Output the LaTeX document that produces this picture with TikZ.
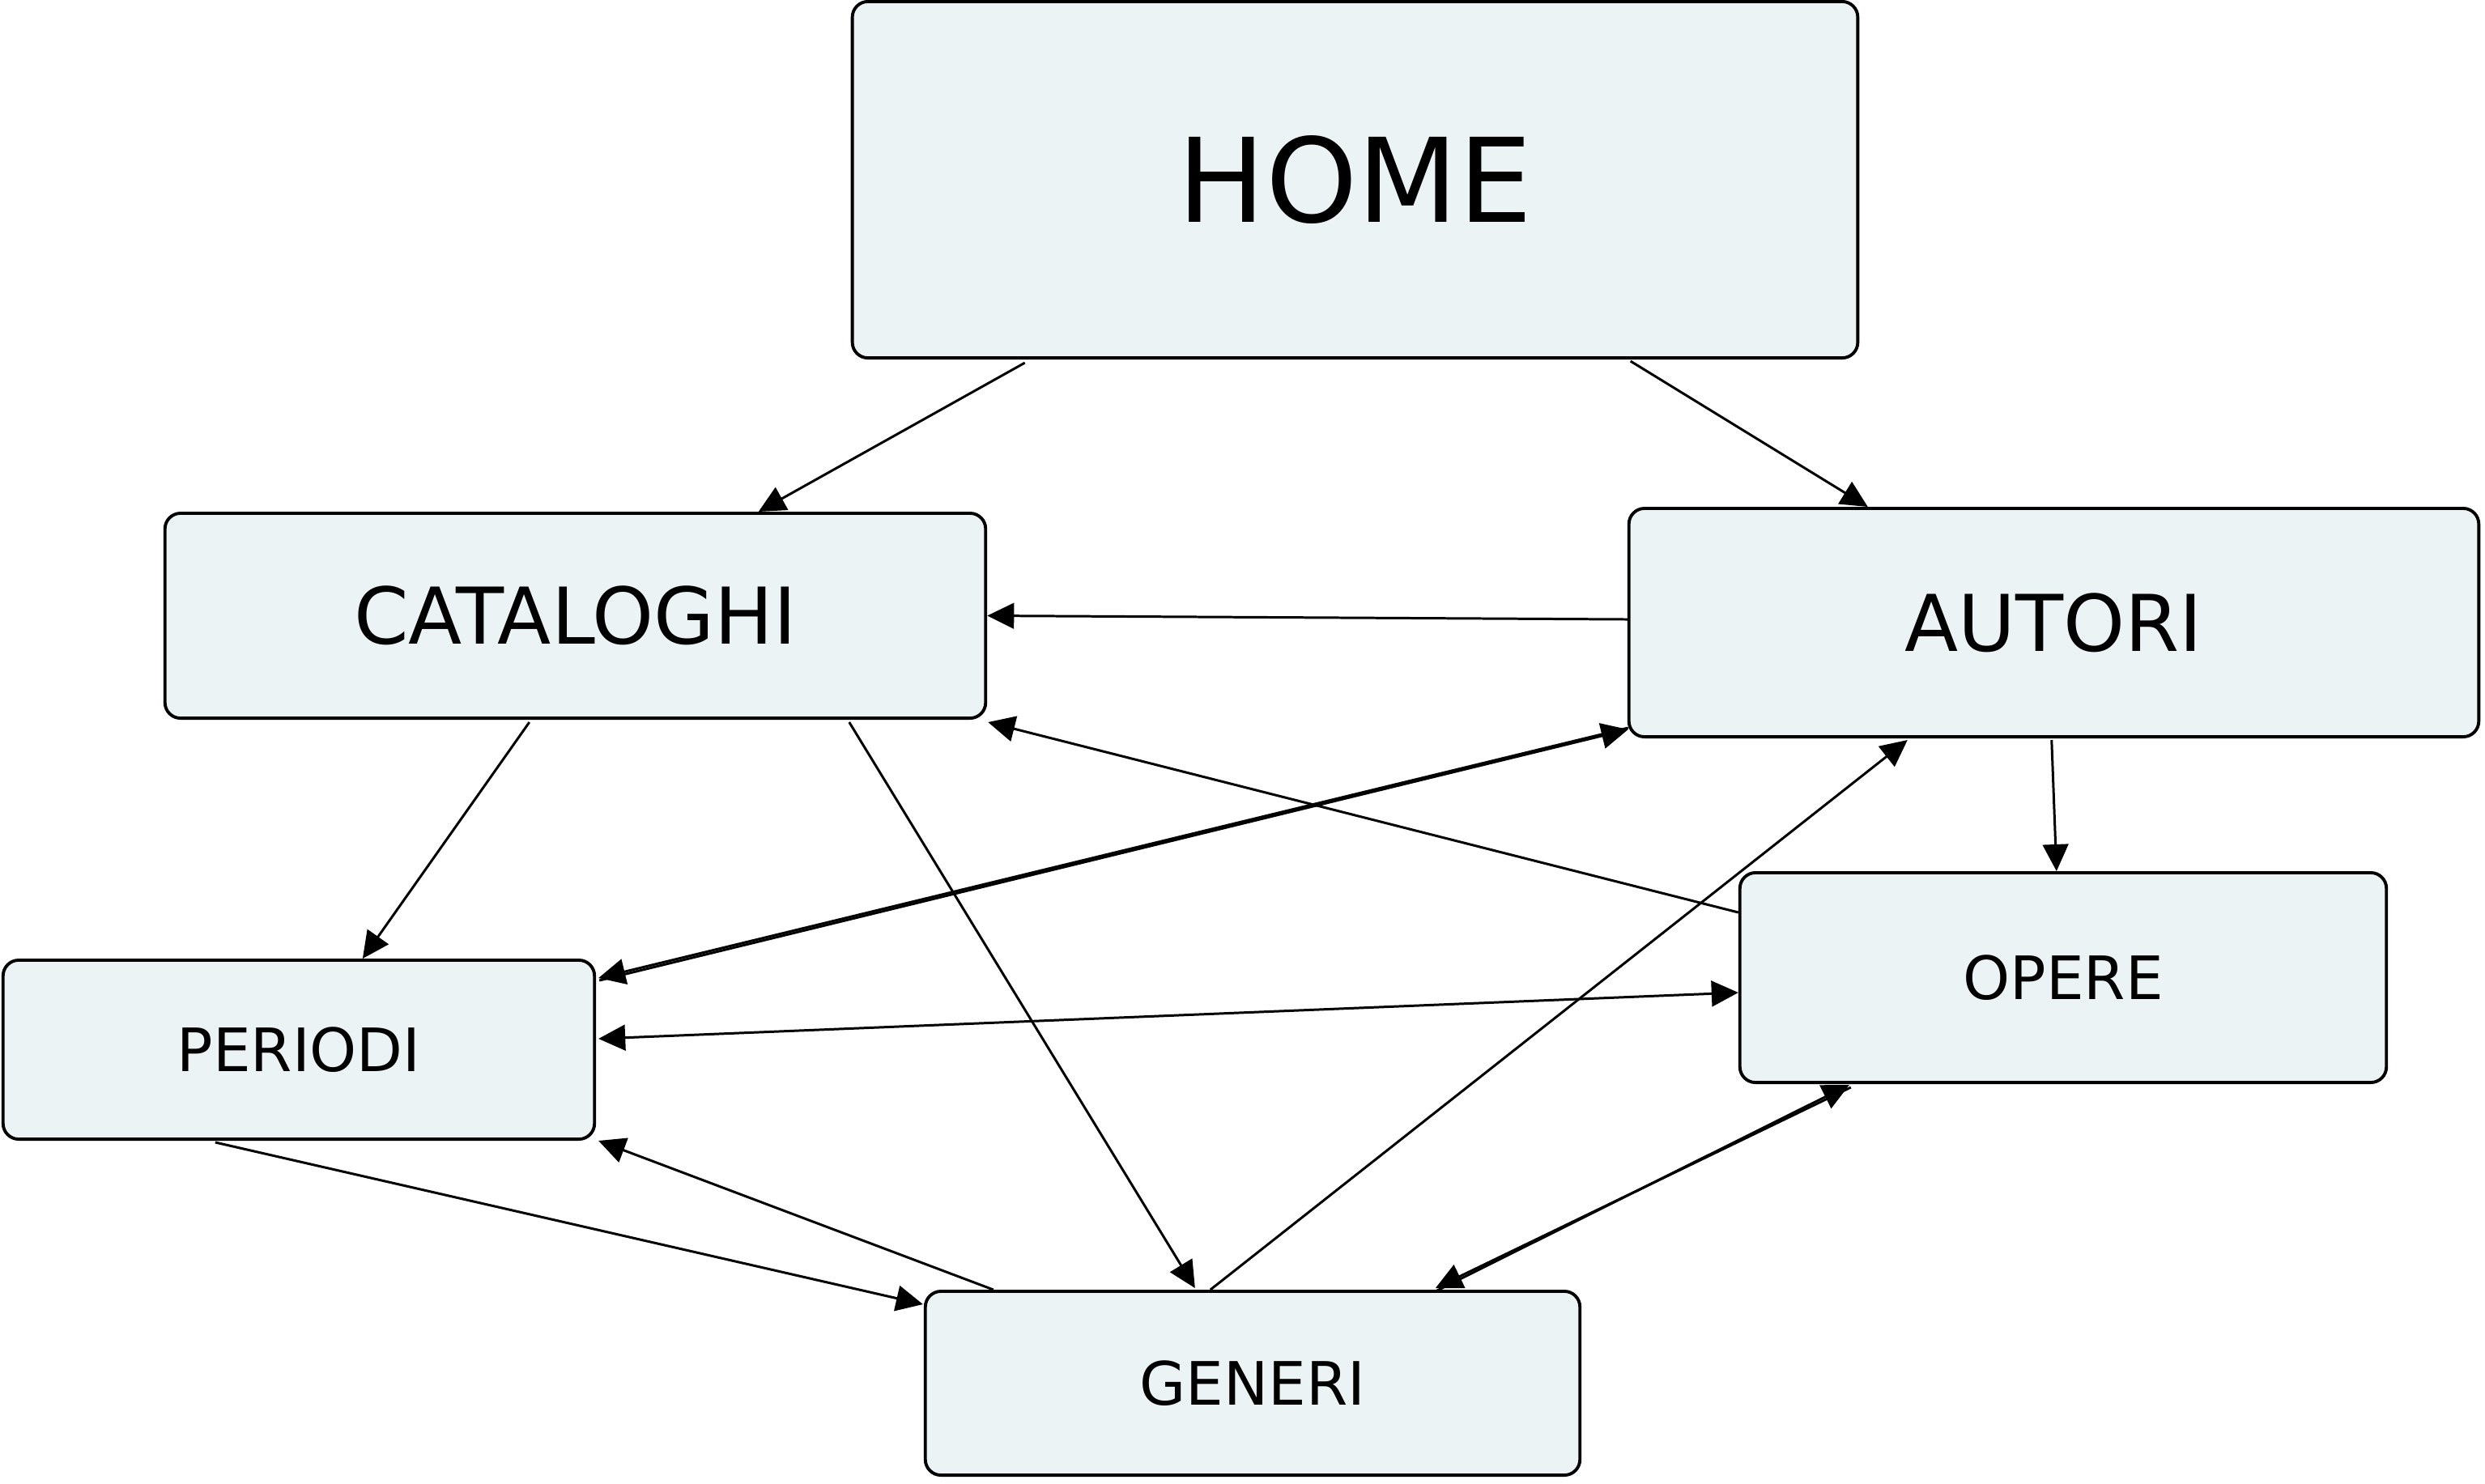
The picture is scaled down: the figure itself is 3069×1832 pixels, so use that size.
\documentclass[tikz,border=0pt]{standalone}
\usepackage{fontspec}
\setmainfont{DejaVu Sans}
\usepackage{tikz}
\usetikzlibrary{arrows.meta,calc}
\definecolor{boxfill}{RGB}{235,243,245}

\begin{document}
\begin{tikzpicture}[x=0.01cm, y=-0.01cm,
  page/.style={draw, line width=1.1pt, fill=boxfill, rounded corners=5.5pt, inner sep=0pt},
  link/.style={line width=0.85pt, ->},
  >={Triangle[length=9.4pt, width=9pt]}]

\useasboundingbox (0,0) rectangle (3069,1832);

\node[page, minimum width=12.41cm, minimum height=4.40cm, font=\fontsize{41}{41}\selectfont] (home) at (1673.5,222) {HOME};
\node[page, minimum width=10.13cm, minimum height=2.53cm, font=\fontsize{27.5}{27.5}\selectfont] (cataloghi) at (710.5,760.5) {CATALOGHI};
\node[page, minimum width=10.49cm, minimum height=2.82cm, font=\fontsize{27.5}{27.5}\selectfont] (autori) at (2536.5,769) {AUTORI};
\node[page, minimum width=7.30cm, minimum height=2.21cm, font=\fontsize{21}{21}\selectfont] (periodi) at (369,1296.5) {PERIODI};
\node[page, minimum width=7.98cm, minimum height=2.59cm, font=\fontsize{21}{21}\selectfont] (opere) at (2548,1207.5) {OPERE};
\node[page, minimum width=8.08cm, minimum height=2.27cm, font=\fontsize{21}{21}\selectfont] (generi) at (1547,1708.5) {GENERI};

% from home
\draw[link] ($(home.south west)+(215,4)$) -- ($(cataloghi.north west)+(735,0)$);
\draw[link] ($(home.south west)+(963,2)$) -- ($(autori.north west)+(297,0)$);

% back to cataloghi
\draw[link] ($(autori.west)+(0,-4)$) -- (cataloghi.east);
\draw[link] ($(opere.north west)+(0,51)$) -- ($(cataloghi.south east)+(1,3)$);

% from cataloghi
\draw[link] ($(cataloghi.south west)+(452,3)$) -- ($(periodi.north west)+(446,0)$);
\draw[link] ($(cataloghi.south west)+(847,3)$) -- ($(generi.north west)+(335,-2)$);

\draw[link] ($(autori.south west)+(524,2)$) -- ($(opere.north west)+(393,0)$);

% periodi and autori, both ways
\draw[link] ($(periodi.north east)+(4,27)$) -- ($(autori.south west)+(1,-11)$);
\draw[link] ($(autori.south west)+(1,-13)$) -- ($(periodi.north east)+(3,24)$);

\draw[line width=0.85pt, <->] ($(periodi.east)+(3,-13.5)$) -- ($(opere.west)+(0,18.5)$);

\draw[link] ($(periodi.south west)+(264,2)$) -- ($(generi.north west)+(-1,18)$);
\draw[link] ($(generi.north west)+(86,0)$) -- ($(periodi.south east)+(3,0)$);
\draw[link] ($(generi.north west)+(354,0)$) -- ($(autori.south west)+(346,2)$);

% generi and opere, both ways
\draw[link] ($(generi.north west)+(634,1)$) -- ($(opere.south west)+(137,1)$);
\draw[link] ($(opere.south west)+(139,4)$) -- ($(generi.north west)+(632,-2)$);

\end{tikzpicture}
\end{document}
